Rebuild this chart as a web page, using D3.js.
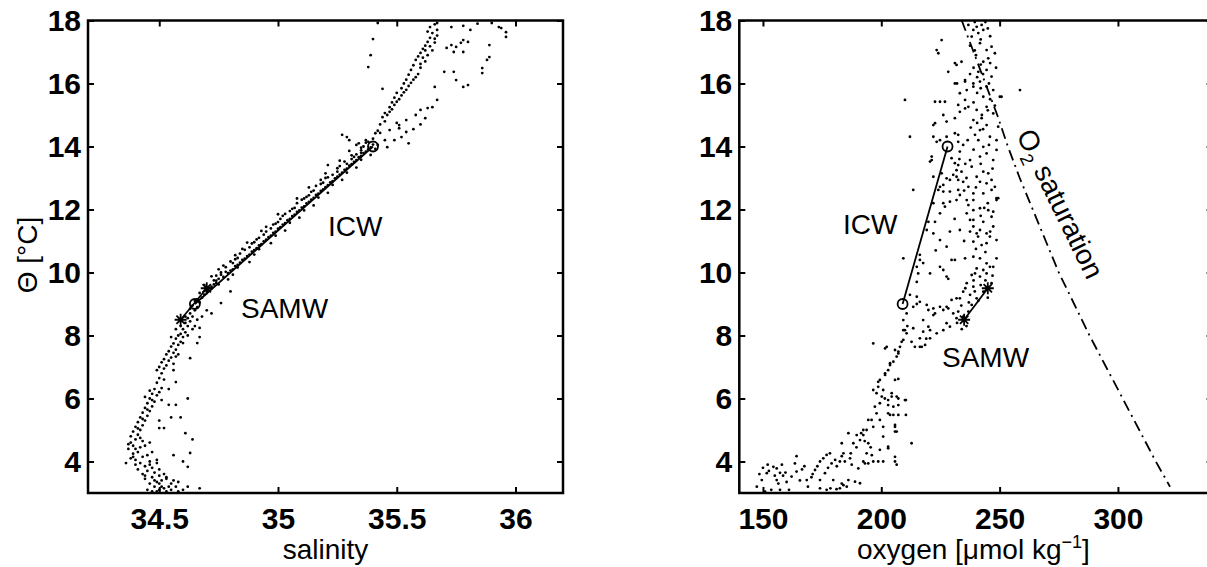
<!DOCTYPE html>
<html>
<head>
<meta charset="utf-8">
<script src="https://cdn.jsdelivr.net/npm/d3@7"></script>
<style>
  body { margin: 0; background: #fff; }
  svg text { font-family: "Liberation Sans", Arial, Helvetica, sans-serif; fill: #000; }
</style>
</head>
<body>
<script>
const W = 1207, H = 567;

// shared theta axis + tick values
const thetaDomain = [3, 18];
const thetaTicks = [4, 6, 8, 10, 12, 14, 16, 18];
const salTicks = [34.5, 35, 35.5, 36];
const oxyTicks = [150, 200, 250, 300];

// theta-salinity cloud, [salinity, theta]
const tsDeep = [
  [34.45,3.1],[34.47,3.05],[34.48,3.2],[34.5,3.1],[34.52,3.15],[34.53,3.05],[34.55,3.1],[34.57,3.2],[34.58,3.05],
  [34.6,3.1],[34.62,3.2],[34.67,3.15],[34.46,3.3],[34.49,3.35],[34.51,3.4],[34.5,3.3],[34.53,3.45],[34.55,3.3],
  [34.44,3.45],[34.47,3.5],[34.5,3.55],[34.52,3.6],[34.43,3.6],[34.45,3.7],[34.48,3.65],[34.5,3.75],[34.47,3.8],
  [34.53,3.5],[34.56,3.4],[34.58,3.35],[34.62,3.83],[34.6,4.0],[34.56,4.2],[34.63,4.27],[34.64,4.7],[34.41,3.75],
  [34.44,3.85],[34.42,3.95],[34.46,4.0],[34.4,4.05],[34.38,4.1],[34.43,4.15],[34.45,4.2],[34.39,4.25],[34.41,4.3],
  [34.37,4.4],[34.39,4.5],[34.42,4.45],[34.44,4.5],[34.38,4.6],[34.4,4.7],[34.43,4.65],[34.38,4.8],[34.41,4.85],
  [34.39,4.95],[34.42,5.0],[34.4,5.1],[34.43,5.15],[34.41,5.25],[34.44,5.3],[34.42,5.4],[34.45,5.45],[34.43,5.55],
  [34.46,5.6],[34.44,5.7],[34.47,5.75],[34.45,5.85],[34.48,5.9],[34.46,6.0],[34.44,6.05],[34.47,6.15],[34.49,6.1],
  [34.46,6.25],[34.48,6.3],[34.5,6.2],[34.47,4.3],[34.49,4.05],[34.5,5.06],[34.52,5.06],[34.5,5.3],[34.55,5.4],
  [34.59,5.4],[34.61,4.9],[34.54,5.8],[34.57,5.8],[34.62,6.0],[34.51,5.95],[34.51,6.33],[34.54,6.3],[34.57,6.52],
  [34.36,3.95],[34.37,4.55],[34.4,3.9],[34.48,3.4],[34.54,3.2],[34.49,3.95],[34.46,4.6],[34.39,4.15],[34.4,4.4],
  [34.42,4.75],[34.41,5.05],[34.43,5.35],[34.45,5.65],[34.47,5.95],[34.44,3.55],[34.46,3.9],[34.51,3.2],[34.49,3.05]
];
const tsSamw = [
  [34.49,6.5],[34.5,6.65],[34.51,6.8],[34.49,6.9],[34.52,6.95],[34.53,7.05],[34.51,7.15],[34.54,7.2],[34.55,7.3],
  [34.53,7.4],[34.56,7.45],[34.57,7.55],[34.55,7.65],[34.58,7.7],[34.59,7.8],[34.57,7.9],[34.6,7.95],[34.59,8.05],
  [34.61,8.1],[34.6,8.2],[34.62,8.3],[34.61,8.4],[34.63,8.45],[34.62,8.55],[34.64,8.6],[34.63,8.7],[34.65,8.8],
  [34.66,8.9],[34.64,8.95],[34.67,9.05],[34.66,9.15],[34.68,9.2],[34.69,9.3],[34.7,9.4],[34.71,9.5],[34.56,6.9],
  [34.56,7.1],[34.63,7.28],[34.58,7.4],[34.6,7.76],[34.66,7.76],[34.67,7.95],[34.67,8.24],[34.66,8.5],[34.65,8.3],
  [34.72,8.7],[34.76,9.03],[34.8,9.4],[34.7,8.8],[34.68,8.6],[34.57,8.2],[34.55,7.95],[34.52,6.6],[34.57,7.33],
  [34.5,7.0],[34.52,7.25],[34.54,7.5],[34.56,7.75],[34.58,8.0],[34.59,8.3],[34.61,8.6],[34.63,8.85],[34.65,9.1],
  [34.67,9.35],[34.62,8.0],[34.64,8.2]
];
const tsIcw = [
  [34.72,9.55],[34.73,9.62],[34.74,9.66],[34.74,9.74],[34.75,9.8],[34.77,9.86],[34.76,9.93],[34.79,9.98],[34.8,10.06],
  [34.81,10.1],[34.82,10.2],[34.83,10.24],[34.84,10.31],[34.85,10.4],[34.86,10.44],[34.87,10.52],[34.88,10.57],
  [34.89,10.66],[34.9,10.71],[34.91,10.77],[34.92,10.86],[34.93,10.9],[34.94,10.99],[34.95,11.04],[34.96,11.12],
  [34.97,11.17],[34.98,11.26],[34.99,11.3],[35.0,11.39],[35.01,11.44],[35.02,11.52],[35.03,11.57],[35.04,11.66],
  [35.05,11.7],[35.06,11.79],[35.07,11.84],[35.08,11.92],[35.09,11.97],[35.1,12.06],[35.11,12.1],[35.12,12.19],
  [35.13,12.24],[35.14,12.31],[35.15,12.37],[35.16,12.46],[35.17,12.5],[35.18,12.59],[35.19,12.64],[35.2,12.71],
  [35.21,12.77],[35.22,12.86],[35.23,12.9],[35.24,12.99],[35.25,13.04],[35.26,13.11],[35.27,13.17],[35.28,13.26],
  [35.29,13.3],[35.3,13.39],[35.31,13.44],[35.32,13.51],[35.33,13.57],[35.34,13.66],[35.35,13.7],[35.36,13.79],
  [35.37,13.84],[35.38,13.91],[35.39,13.97],[35.4,14.06],
  [34.74,9.9],[34.78,10.17],[34.83,10.46],[34.86,10.72],[34.9,10.96],[34.95,11.3],[34.98,11.52],[35.03,11.86],
  [35.06,12.02],[35.1,12.31],[35.14,12.56],[35.18,12.81],[35.21,13.02],[35.25,13.31],[35.28,13.52],[35.31,13.72],
  [35.35,13.96],[35.37,14.12],[35.33,14.05],[35.3,13.86],[34.81,10.3],[34.92,11.1],[35.0,11.6],[35.12,12.4],
  [35.21,13.41],[35.18,12.94],[35.46,13.98],[35.45,14.2],[35.41,14.42],[35.37,14.2],[35.35,13.8],[35.32,13.67]
];
// extra points on both edges of the dense ICW band
const tsBand = [
  [34.7,9.45],[34.69,9.6],[34.73,9.75],[34.72,9.88],[34.76,10.0],[34.78,10.02],[34.77,10.22],[34.8,10.35],[34.82,10.42],
  [34.84,10.6],[34.85,10.75],[34.88,10.8],[34.89,10.92],[34.91,11.05],[34.94,11.2],[34.93,11.32],[34.97,11.4],
  [34.99,11.55],[35.01,11.7],[35.02,11.8],[35.05,11.95],[35.07,12.05],[35.08,12.2],[35.11,12.35],[35.13,12.45],
  [35.15,12.6],[35.16,12.75],[35.19,12.85],[35.2,13.0],[35.23,13.1],[35.25,13.2],[35.26,13.38],[35.29,13.45],
  [35.31,13.6],[35.33,13.75],[35.35,13.88],[35.36,14.0],[35.38,14.15],[35.4,14.25],
  [34.75,9.62],[34.79,9.78],[34.81,9.93],[34.83,10.16],[34.88,10.33],[34.9,10.57],[34.92,10.74],[34.97,10.93],
  [34.99,11.17],[35.03,11.33],[35.05,11.58],[35.09,11.74],[35.11,11.97],[35.15,12.13],[35.17,12.38],[35.21,12.53],
  [35.23,12.78],[35.27,12.94],[35.29,13.17],[35.33,13.33],[35.35,13.58],[35.39,13.73],[35.41,13.92],
  [34.75,10.1],[34.82,10.55],[34.87,10.95],[34.95,11.45],[35.0,11.85],[35.08,12.35],[35.13,12.7],[35.2,13.15],
  [35.26,13.55],[35.34,14.1],[35.3,14.2],[35.42,14.05]
];
const tsUpper = [
  [35.42,14.5],[35.43,14.7],[35.44,14.93],[35.45,15.06],[35.47,15.25],[35.48,15.4],[35.49,15.55],[35.5,15.7],
  [35.52,15.85],[35.53,16.0],[35.54,16.12],[35.55,16.28],[35.56,16.43],[35.57,16.58],[35.58,16.75],[35.59,16.86],
  [35.6,16.97],[35.61,17.1],[35.62,17.2],[35.63,17.32],[35.64,17.45],[35.65,17.6],[35.64,17.79],[35.66,17.88],
  [35.47,15.1],[35.49,15.32],[35.51,15.5],[35.53,15.72],[35.55,15.92],[35.57,16.12],[35.59,16.3],[35.6,16.5],
  [35.62,16.7],[35.63,16.9],[35.65,17.05],[35.66,17.3],[35.67,17.52],[35.67,17.7],
  [35.43,14.43],[35.47,14.52],[35.51,14.68],[35.54,14.84],[35.58,15.0],[35.6,15.16],[35.63,15.22],[35.65,15.25],
  [35.49,14.2],[35.52,14.3],[35.55,14.1],[35.57,14.55],[35.6,14.7],[35.62,14.9],[35.5,14.75],[35.51,14.58],
  [35.54,14.46],[35.67,15.48],[35.66,15.89],[35.7,16.37],[35.74,16.37],[35.75,16.11],[35.78,15.89],[35.8,15.95],
  [35.71,17.13],[35.73,17.22],[35.75,17.16],[35.77,17.29],[35.78,17.38],[35.8,17.32],[35.74,17.0],[35.78,17.0],
  [35.86,16.33],[35.86,16.49],[35.88,16.75],[35.89,16.84],[35.89,17.22],[35.67,17.92],[35.73,17.79],[35.78,17.83],
  [35.81,17.7],[35.84,17.9],[35.9,17.92],[35.93,17.79],[35.94,17.76],[35.96,17.63],[35.96,17.48],[35.42,17.92],
  [35.4,17.41],[35.39,16.9],[35.38,16.52],[35.44,15.83],[35.27,14.37],[35.29,14.3],
  [35.45,14.8],[35.46,15.0],[35.48,15.18],[35.5,15.42],[35.52,15.62],[35.54,15.8],[35.56,16.02],[35.58,16.2],
  [35.6,16.62],[35.61,16.82],[35.62,17.05],[35.64,17.18],[35.66,17.42],[35.63,17.65]
];

// theta-oxygen cloud, [oxygen, theta]
const toDeep = [
  [147.4,3.2],[149.5,3.41],[151.6,3.63],[152.5,3.7],[154.4,3.83],[155.8,3.41],[156.5,3.3],[150.9,3.04],[153.5,3.1],
  [157.2,3.1],[155,3.55],[157.2,3.64],[158.5,3.55],[159.5,3.65],[155.8,3.78],[162.1,3.52],[164.2,3.68],[163.5,3.94],
  [164.2,4.17],[166.5,3.75],[167.5,3.85],[165.6,3.4],[168.5,3.41],[170.5,3.5],[172,3.73],[173,3.85],[174.1,4.0],
  [175.5,4.1],[176.9,4.21],[178.3,4.26],[179,3.94],[180.5,4.05],[181.2,3.85],[182.5,4.0],[184.6,4.0],[183.3,4.17],
  [187.1,4.26],[183.3,4.58],[186.1,4.9],[188.2,4.58],[189.5,4.45],[191,4.68],[189.6,4.84],[191.5,4.9],[192.4,5.0],
  [193,4.65],[194.5,4.58],[195.5,4.45],[193.8,4.26],[192.4,4.0],[194.5,3.94],[196.6,4.0],[198.7,4.0],[200.8,4.0],
  [202.9,4.42],[200.8,4.79],[205.8,4.0],[205.8,4.15],[206.5,3.9],[212.8,4.58],[174.1,3.15],[176.9,3.1],[178.5,3.15],
  [181.1,3.12],[182.5,3.15],[184,3.25],[185.4,3.2],[188.9,3.36],[191,3.31],[186.1,3.41],[174.1,3.41],[176.2,3.63],
  [179.7,3.41],[183.3,3.3],[190.3,3.78],[193.1,3.94],[184,4.26],[186.8,4.1],[199.4,4.37],[202.9,4.47],[205.8,4.95],
  [205.8,5.16],[196.6,5.1],[195.9,5.32],[198,5.53],[197.3,5.74],[199.4,5.85],[200.2,6.06],[198,6.17],[196.6,6.27],
  [200.8,6.27],[198.7,6.37],[201.5,6.0],[202.9,5.95],[204.4,6.17],[206.5,6.06],[205.1,5.74],[207.2,5.79],[202.9,5.53],
  [205.1,5.48],[207.2,5.48],[210.4,5.48],[210.4,5.95],[199.4,5.32],[200.8,5.1],[205.8,5.1],[206.5,4.95],[194.5,5.32],
  [193.8,5.0],[192.4,4.84],[203.7,5.48],[204.4,6.06],[207.2,6.0],[210,5.95],[202.9,5.79],[148.5,3.6],[150,3.8],
  [152,3.9],[158,3.9],[160,3.35],[161,3.1],[169,3.2],[171,3.6],[177.5,3.8],[187.5,3.9],[196,4.2]
];
const toSamw = [
  [199.4,6.59],[201.6,6.75],[202.9,6.9],[203.7,7.06],[205.1,7.17],[206.5,7.33],[207.2,7.49],[207.9,7.64],[208.6,7.8],
  [196.6,7.75],[201.6,7.59],[205.8,6.59],[207.2,6.62],[198.7,6.53],[201.6,6.8],[203.7,7.12],[207.2,7.43],[205.8,7.54],
  [202.3,7.64],[210.7,8.07],[209.3,8.17],[213.5,8.23],[216.3,7.64],[218.5,7.7],[220.6,7.91],[223.4,8.07],[219.9,8.28],
  [217.7,8.49],[222,8.65],[226.2,8.81],[227.6,8.39],[230.4,8.7],[209.3,8.49],[210.7,8.7],[213.5,8.91],[216.3,9.07],
  [219.2,8.97],[222,8.86],[224.8,8.91],[227.6,8.91],[229.7,9.13],[231.8,9.18],[212.1,9.29],[215,9.23],[215,9.0],
  [219.9,8.81],[222.7,8.7],[228.3,8.86],[232.5,8.76],[231.8,8.55],[229,8.28],[226.2,8.17],[220.6,8.17],[217.7,8.12],
  [210,8.17],[209.3,7.86],[212.8,7.8],[216.3,7.91],[219,7.9],[214.2,7.64],[217.1,7.64],[211,8.3],
  [238.9,10.5],[241.7,10.45],[244.5,10.29],[247.3,10.18],[240.3,10.13],[238.2,9.92],[241.7,9.87],[244.5,9.97],
  [246.6,9.66],[236.1,9.66],[238.9,9.55],[234.6,9.39],[237.5,9.29],[233.2,9.18],[231.1,10.4],[235.4,10.45],
  [224.8,10.18],[227.6,9.87],[243.1,9.39],[240.3,9.18],[238.2,8.97],[236.8,8.76],[234.6,8.6],[216.3,10.4],
  [217.7,10.3],[215.6,9.97],[215,9.7],[228.3,9.8],[229.7,10.4],[226.2,10.08],[220.6,9.97],[215,10.18],[209.3,10.45],
  [243.1,10.08],[239.6,9.97],[245.9,10.18],[248.7,10.45],[242,9.6],[244,9.75],[239.5,9.4],[241,9.1],[237,9.05],
  [235.5,9.5],[233.8,8.95],[236,8.3],[234,8.2],[232,8.4],[239,9.75],[247,9.9],[245,9.2]
];
const toIcw = [
  [238.9,11.67],[243.1,11.61],[247.3,11.46],[237.5,11.3],[240.3,11.24],[245.9,11.14],[248.7,11.03],[242.4,10.87],
  [246.6,11.77],[236.8,12.72],[238.9,12.51],[243.1,12.51],[248.7,12.36],[246.6,12.94],[248,12.72],[240.3,13.04],
  [243.1,13.2],[238.2,13.36],[237.5,13.57],[247.3,13.57],[241.7,13.68],[244.5,13.78],[248.7,13.89],[243.1,13.99],
  [248.7,14.2],[245.9,14.31],[239.6,14.37],[246.6,12.62],[249.4,12.36],
  [222,14.31],[223.4,14.15],[224.8,14.2],[227.6,14.31],[231.1,14.42],[232.5,14.37],[234.6,14.05],[221.3,13.68],
  [220.6,13.52],[229.7,13.63],[231.1,13.47],[232.5,13.41],[231.8,13.25],[233.9,13.2],[230.4,13.1],[232.5,12.94],
  [234.6,12.88],[227.6,12.99],[224.8,12.72],[224.1,12.62],[226.2,12.57],[229,12.57],[232.5,12.62],[233.2,12.46],
  [231.8,12.3],[236.1,12.3],[236.8,12.14],[238.9,12.3],[226.2,12.2],[224.8,11.88],[236.1,11.88],[238.9,11.98],
  [241.7,12.04],[245.2,11.98],[247.3,11.93],[248.7,12.3],[244.5,12.83],[241.7,12.88],[245.2,13.15],[237.5,11.67],
  [238.9,11.46],[241.7,11.35],[244.5,11.24],[240.9,11.14],[238.9,10.98],[244.5,10.93],[222,11.24],[224.8,11.03],
  [229,11.3],[233.2,11.35],[213.5,12.62],[212.1,14.31],[233.2,13.84],[232.5,14.15],[221.3,13.57],[219.2,11.35],
  [219.9,11.61],[222.7,11.61],[226.9,12.09],[229,12.25],[222,12.2],[226.2,12.78],[222,13.04],[225.5,13.15],
  [229,12.94],[231.8,13.04],[227.6,10.82],[216.3,10.56],[223,10.7],[235,11.0],[231,11.7],[235,12.6],[233,13.6],
  [236,13.0],[236.5,14.2],[235.5,13.45],[242,11.8],[245,12.2],[240,12.7],[247,13.3],[242,13.45],[239,13.9],
  [245.5,14.05],[241,14.2],[243.5,12.05],[246,11.3],[240,10.75],[244,10.65]
];
const toUpper = [
  [236.8,17.86],[238.9,17.7],[240.3,17.8],[242.4,17.86],[243.1,17.7],[238.2,17.49],[241.7,17.28],[244.5,17.06],
  [246.6,17.17],[248,16.96],[245.2,16.8],[243.1,16.69],[241,16.37],[244.5,16.43],[246.6,16.22],[241.7,16.06],
  [238.9,15.9],[244.5,15.9],[247.3,15.79],[250.1,15.58],[243.1,15.58],[236.8,15.26],[240.3,15.16],[244.5,15.26],
  [247.3,15.05],[242.4,14.9],[238.9,14.84],[244.5,14.68],[249.4,14.63],[241.7,14.52],
  [225.5,17.38],[223.4,17.06],[224.1,16.96],[228.3,16.37],[231.8,16.59],[233.9,16.69],[231.1,16.0],[233.2,15.69],
  [235.4,16.06],[236.1,15.79],[222.7,14.74],[227.6,14.79],[231.1,14.9],[233.2,15.1],[235.4,15.21],[232.5,15.32],
  [235.4,15.48],[210,15.48],[222.7,15.42],[224.8,15.42],[226.9,15.42],[226.2,15.0],[231.1,16.65],[235.4,16.11],
  [232,16.0],[238.9,16.0],[250.8,15.58],[258.6,15.79],[222,14.68],
  [239.5,17.95],[241,17.6],[237.5,17.2],[240,16.9],[242,16.6],[239,16.5],[246,17.5],[244,17.95],[245.5,16.0],
  [237.5,16.3],[240.5,15.7],[248.5,16.5],[239,15.4],[246,15.5],[242.5,15.0],[237.8,14.6],[240.5,14.75],[248,15.3],
  [242,17.4],[245,17.75],[239.5,17.05],[243,16.3],[240.5,16.2],[246,16.65],[242,15.85],[245,15.15],[243,14.55]
];

// water-mass end members: circle = ICW ends, star = SAMW ends
const tsIcwEnds = [[35.4, 14], [34.65, 9]];
const tsSamwEnds = [[34.59, 8.5], [34.7, 9.5]];
const toIcwEnds = [[228, 14], [209, 9]];
const toSamwEnds = [[235, 8.5], [245, 9.5]];

// O2 saturation curve
const satTheta = [18, 17, 16, 15, 14, 13, 12, 11, 10, 9, 8, 7, 6, 5, 4, 3.2];
const satOxy = [234, 239, 244, 249, 253.5, 258.5, 264, 269.5, 275, 281.5, 288, 295, 302, 309, 316, 322];

const svg = d3.select("body").append("svg")
  .attr("width", W).attr("height", H)
  .style("display", "block");

const plotTop = 20.5, plotBottom = 493;
const y = d3.scaleLinear().domain(thetaDomain).range([plotBottom, plotTop]);

function drawPanel(cfg) {
  const x = d3.scaleLinear().domain(cfg.xDomain).range([cfg.left, cfg.right]);
  const g = svg.append("g");

  // dots
  cfg.clouds.forEach(function(arr) {
    g.append("g").selectAll("circle").data(arr).join("circle")
      .attr("cx", d => x(d[0])).attr("cy", d => y(d[1]))
      .attr("r", 1.4).attr("fill", "#000");
  });

  if (cfg.sat) {
    const line = d3.line().x(d => x(d[0])).y(d => y(d[1]));
    g.append("path")
      .datum(cfg.sat)
      .attr("d", line)
      .attr("fill", "none").attr("stroke", "#000")
      .attr("stroke-width", 1.8)
      .attr("stroke-dasharray", "11,5,2,5");
  }

  // end member lines
  [cfg.icw, cfg.samw].forEach(function(ends) {
    g.append("line")
      .attr("x1", x(ends[0][0])).attr("y1", y(ends[0][1]))
      .attr("x2", x(ends[1][0])).attr("y2", y(ends[1][1]))
      .attr("stroke", "#000").attr("stroke-width", 1.8);
  });

  g.selectAll(".circ").data(cfg.icw).join("circle")
    .attr("class", "circ")
    .attr("cx", d => x(d[0])).attr("cy", d => y(d[1]))
    .attr("r", 5).attr("fill", "none").attr("stroke", "#000").attr("stroke-width", 1.8);

  // asterisk markers
  const star = "M-6,0L6,0M0,-6L0,6M-4.2,-4.2L4.2,4.2M-4.2,4.2L4.2,-4.2";
  g.selectAll(".star").data(cfg.samw).join("path")
    .attr("class", "star")
    .attr("transform", d => "translate(" + x(d[0]) + "," + y(d[1]) + ")")
    .attr("d", star).attr("stroke", "#000").attr("stroke-width", 1.8);

  // axes, ticks pointing inward
  const gx = g.append("g").attr("transform", "translate(0," + plotBottom + ")")
    .call(d3.axisBottom(x).tickValues(cfg.xTicks).tickSize(-6).tickSizeOuter(0)
      .tickPadding(15).tickFormat(d => String(d)));
  g.append("g").attr("transform", "translate(0," + plotTop + ")")
    .call(d3.axisTop(x).tickValues(cfg.xTicks).tickSize(-6).tickSizeOuter(0).tickFormat(""));
  const gy = g.append("g").attr("transform", "translate(" + cfg.left + ",0)")
    .call(d3.axisLeft(y).tickValues(thetaTicks).tickSize(-6).tickSizeOuter(0).tickPadding(7));
  g.append("g").attr("transform", "translate(" + cfg.right + ",0)")
    .call(d3.axisRight(y).tickValues(thetaTicks).tickSize(-6).tickSizeOuter(0).tickFormat(""));

  g.selectAll(".domain").remove();
  g.selectAll(".tick line").attr("stroke", "#000").attr("stroke-width", 2);
  [gx, gy].forEach(a => a.attr("font-family", null).attr("font-size", null)
    .selectAll("text").style("font-size", "30px").style("font-weight", "bold"));

  g.append("rect")
    .attr("x", cfg.left).attr("y", plotTop)
    .attr("width", cfg.right - cfg.left).attr("height", plotBottom - plotTop)
    .attr("fill", "none").attr("stroke", "#000").attr("stroke-width", 2.5);

  return x;
}

drawPanel({
  left: 88, right: 563, xDomain: [34.2, 36.2], xTicks: salTicks,
  clouds: [tsDeep, tsSamw, tsIcw, tsBand, tsUpper],
  icw: tsIcwEnds, samw: tsSamwEnds
});

drawPanel({
  left: 739.3, right: 1212.6, xDomain: [140, 340], xTicks: oxyTicks,
  clouds: [toDeep, toSamw, toIcw, toUpper],
  icw: toIcwEnds, samw: toSamwEnds,
  sat: satOxy.map((o, i) => [o, satTheta[i]])
});

// labels
function label(txt, x0, y0, size) {
  return svg.append("text").attr("x", x0).attr("y", y0)
    .style("font-size", (size || 28) + "px").text(txt);
}

label("salinity", 325.5, 559).attr("text-anchor", "middle");
svg.append("text")
  .attr("transform", "translate(37,255) rotate(-90)")
  .attr("text-anchor", "middle")
  .style("font-size", "28px")
  .text("\u0398 [\u00b0C]");

label("ICW", 328, 236);
label("SAMW", 241, 318);
label("ICW", 843, 234);
label("SAMW", 942, 367);

const ox = svg.append("text").attr("x", 857).attr("y", 559).style("font-size", "28px");
ox.append("tspan").text("oxygen [\u03bcmol kg");
ox.append("tspan").attr("dy", -11).style("font-size", "18px").text("\u22121");
ox.append("tspan").attr("dy", 11).text("]");

const sat = svg.append("text")
  .attr("transform", "translate(1016,135) rotate(64)")
  .style("font-size", "28px");
sat.append("tspan").text("O");
sat.append("tspan").attr("dy", 7).style("font-size", "18px").text("2");
sat.append("tspan").attr("dy", -7).text(" saturation");
</script>
</body>
</html>
